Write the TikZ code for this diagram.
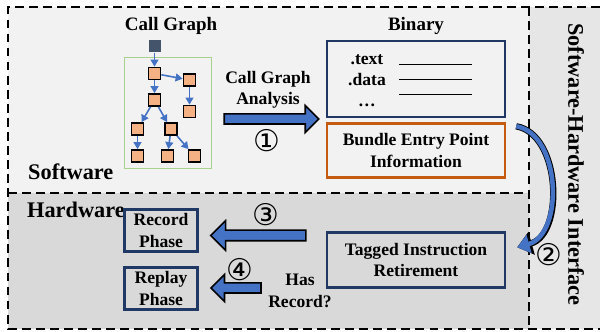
\documentclass[tikz,border=0pt]{standalone}
\usepackage{fontspec}
\setmainfont{Liberation Serif}
\newfontfamily\circfont{DejaVu Sans}
\usetikzlibrary{positioning,calc,shapes.arrows,arrows.meta}

\definecolor{arrowblue}{HTML}{4472C4}
\definecolor{navyline}{HTML}{1F3864}
\definecolor{bundleorange}{HTML}{C55A11}
\definecolor{graphgreen}{HTML}{A9D18E}
\definecolor{funcorange}{HTML}{F4B183}
\definecolor{entryslate}{HTML}{44546A}
\definecolor{swfill}{HTML}{F2F2F2}
\definecolor{hwfill}{HTML}{D9D9D9}
\definecolor{iffill}{HTML}{E6E6E6}

\begin{document}
\begin{tikzpicture}[
    region/.style={draw=black, line width=1.4pt, dash pattern=on 5pt off 3pt},
    regiontitle/.style={font=\fontsize{12.7}{15}\selectfont\bfseries},
    titletext/.style={font=\fontsize{10.8}{13}\selectfont\bfseries},
    boxtext/.style={font=\fontsize{10}{12.2}\selectfont\bfseries, align=center},
    infobox/.style={draw=navyline, line width=1.4pt, minimum width=3.56cm, align=center, font=\fontsize{10}{12.5}\selectfont\bfseries},
    phasebox/.style={draw=navyline, line width=1.4pt, minimum width=1.46cm, minimum height=0.84cm, inner sep=0pt, align=center, font=\fontsize{10}{12}\selectfont\bfseries},
    fnode/.style={draw=black, fill=funcorange, line width=1pt, minimum size=0.24cm, inner sep=0pt},
    calledge/.style={draw=arrowblue, line width=0.9pt, -{Triangle[length=4pt, width=4.5pt]}},
    blockarrow/.style={single arrow, draw=black, fill=arrowblue, line width=0.9pt, inner xsep=0pt, inner ysep=0.085cm, single arrow head extend=0.17cm, single arrow tip angle=90},
    curvearrow/.style={draw=arrowblue, line width=2.6pt, -{Triangle[length=7pt, width=10.5pt]},
        preaction={draw=black, line width=3.6pt, -{Triangle[length=8.5pt, width=13pt]}}},
    stepnum/.style={font=\circfont\fontsize{17}{20}\selectfont}
]
    \useasboundingbox (0,0) rectangle (12,6.64);

    % Regions
    \fill[swfill] (0.16,2.78) rectangle (10.58,6.50);
    \fill[hwfill] (0.16,0.06) rectangle (10.58,2.78);
    \fill[iffill] (10.58,0.06) rectangle (12,6.50);
    \draw[region] (12,6.50) -- (0.16,6.50) -- (0.16,0.06) -- (12,0.06);
    \draw[region] (10.58,6.50) -- (10.58,0.06);
    \draw[region] (0.16,2.78) -- (10.58,2.78);

    \node[regiontitle, anchor=base west] (swlabel) at (0.44,3.04) {Software};
    \node[regiontitle, anchor=base west] (hwlabel) at (0.42,2.28) {Hardware};
    \node[regiontitle, rotate=-90] (iflabel) at (11.52,3.35) {Software-Hardware Interface};

    % --- Call graph ---
    \node[titletext, anchor=base] (cgtitle) at (3.42,6.03) {Call Graph};
    \node[draw=graphgreen, line width=0.9pt, minimum width=1.74cm, minimum height=2.22cm] (graphbox) at (3.36,4.38) {};
    \node[fill=entryslate, minimum size=0.24cm, inner sep=0pt] (root) at (3.09,5.71) {};
    \foreach \n/\x/\y in {f1/3.09/5.17, f2/3.79/5.04, f3/3.09/4.64, f4/3.79/4.41, f5/2.75/4.06,
                          f6/3.42/4.06, f7/2.75/3.52, f8/3.35/3.52, f9/3.89/3.52} {
        \node[fnode] (\n) at (\x,\y) {};
    }
    \foreach \a/\b in {root/f1, f1/f2, f1/f3, f2/f4, f3/f5, f3/f6, f5/f7, f6/f8, f6/f9} {
        \draw[calledge] (\a) -- (\b);
    }

    % --- Step 1 ---
    \node[boxtext] (cganalysis) at (5.36,4.84) {Call Graph\\Analysis};
    \node[blockarrow, minimum height=1.89cm] (arrow1) at (5.38,4.26) {};
    \node[stepnum] (step1) at (5.33,3.82) {①};

    % --- Binary ---
    \node[titletext, anchor=base] (bintitle) at (8.32,6.02) {Binary};
    \node[infobox, minimum height=1.52cm] (binary) at (8.32,5.06) {};
    \node[boxtext, anchor=base] (sectext) at (7.34,5.34) {.text};
    \node[boxtext, anchor=base] (secdata) at (7.34,4.92) {.data};
    \node[boxtext, anchor=base] (secmore) at (7.34,4.51) {\dots};
    \foreach \y in {5.354, 5.046, 4.746} {
        \draw[line width=0.9pt] (7.98,\y) -- (9.44,\y);
    }
    \node[infobox, draw=bundleorange, minimum height=1.08cm] (bundle) at (8.32,3.63) {Bundle Entry Point\\Information};

    % --- Step 2 ---
    \node[infobox, minimum height=1.1cm] (tagged) at (8.32,1.44) {Tagged Instruction\\Retirement};
    \draw[curvearrow] ([xshift=0.2cm, yshift=-0.08cm]bundle.north east)
        .. controls +(0.9,-0.16) and +(0.94,0.26) .. ([xshift=0.22cm, yshift=-0.32cm]tagged.north east);
    \node[stepnum] (step2) at (10.97,1.54) {②};

    % --- Steps 3 and 4 ---
    \node[phasebox] (record) at (3.22,2.03) {Record\\Phase};
    \node[phasebox] (replay) at (3.22,0.87) {Replay\\Phase};
    \node[blockarrow, shape border rotate=180, minimum height=1.9cm, inner ysep=0.09cm, single arrow head extend=0.19cm] (arrow3) at (5.22,1.93) {};
    \node[stepnum] (step3) at (5.32,2.34) {③};
    \node[blockarrow, shape border rotate=180, minimum height=1.0cm] (arrow4) at (4.77,0.88) {};
    \node[stepnum] (step4) at (4.80,1.24) {④};
    \node[boxtext] (hasrecord) at (6.0,0.82) {Has\\Record?};

\end{tikzpicture}
\end{document}
